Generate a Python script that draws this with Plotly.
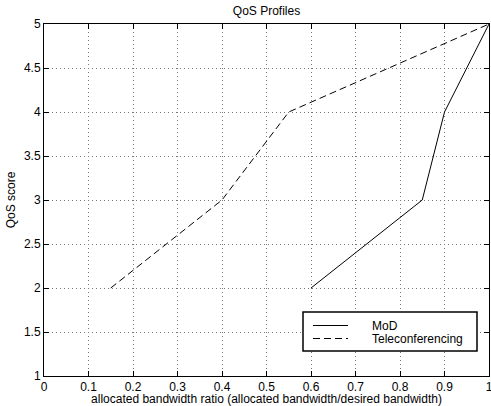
import plotly.graph_objects as go

x_mod = [0.6, 0.85, 0.9, 1.0]
y_mod = [2, 3, 4, 5]
x_tele = [0.15, 0.4, 0.55, 1.0]
y_tele = [2, 3, 4, 5]
series_names = ["MoD", "Teleconferencing"]
x_ticks = [0, 0.1, 0.2, 0.3, 0.4, 0.5, 0.6, 0.7, 0.8, 0.9, 1]
x_tick_labels = ["0", "0.1", "0.2", "0.3", "0.4", "0.5", "0.6", "0.7", "0.8", "0.9", "1"]
y_ticks = [1, 1.5, 2, 2.5, 3, 3.5, 4, 4.5, 5]
y_tick_labels = ["1", "1.5", "2", "2.5", "3", "3.5", "4", "4.5", "5"]

FONT = "Liberation Sans, Arial, Helvetica, sans-serif"
FS = 12
DASH = "7px,4px"

fig = go.Figure()
fig.add_trace(go.Scatter(x=x_mod, y=y_mod, mode="lines", name=series_names[0],
                         line=dict(color="black", width=1), showlegend=False))
fig.add_trace(go.Scatter(x=x_tele, y=y_tele, mode="lines", name=series_names[1],
                         line=dict(color="black", width=1, dash=DASH), showlegend=False))

axis_common = dict(
    showline=True, linecolor="black", linewidth=1, mirror="ticks",
    ticks="inside", ticklen=5, tickcolor="black", tickwidth=1,
    showgrid=True, gridcolor="#777777", gridwidth=1, griddash="1px,3px",
    zeroline=False, tickfont=dict(family=FONT, size=FS, color="black"),
    ticklabeloverflow="allow",
)

# Legend box (drawn in paper coordinates, MATLAB style)
PL, PT, PW, PH = 44, 24, 445, 352


def px(xp):
    return (xp - PL) / PW


def py(yp):
    return (PT + PH - yp) / PH


shapes = [
    dict(type="rect", xref="paper", yref="paper", x0=px(303), x1=px(477), y0=py(351), y1=py(312),
         line=dict(color="black", width=1.5), fillcolor="white", layer="above"),
    dict(type="line", xref="paper", yref="paper", x0=px(313), x1=px(348), y0=py(325.5), y1=py(325.5),
         line=dict(color="black", width=1), layer="above"),
    dict(type="line", xref="paper", yref="paper", x0=px(313), x1=px(348), y0=py(338.5), y1=py(338.5),
         line=dict(color="black", width=1, dash=DASH), layer="above"),
]
annotations = [
    dict(text=series_names[0], xref="paper", yref="paper", x=px(370), y=py(326), xanchor="left",
         yanchor="middle", showarrow=False, font=dict(family=FONT, size=FS, color="black")),
    dict(text=series_names[1], xref="paper", yref="paper", x=px(370), y=py(338.5), xanchor="left",
         yanchor="middle", showarrow=False, font=dict(family=FONT, size=FS, color="black")),
]

fig.update_layout(
    width=491, height=406,
    margin=dict(l=44, r=2, t=24, b=30),
    paper_bgcolor="white", plot_bgcolor="white",
    font=dict(family=FONT, size=FS, color="black"),
    title=dict(text="QoS Profiles", x=0.5, xref="paper", y=1 - 11 / 406,
               yanchor="middle", xanchor="center",
               font=dict(family=FONT, size=FS, color="black")),
    xaxis=dict(range=[0, 1], tickvals=x_ticks, ticktext=x_tick_labels,
               title=dict(text="allocated bandwidth ratio (allocated bandwidth/desired bandwidth)",
                          standoff=1, font=dict(family=FONT, size=FS)),
               automargin=False, **axis_common),
    yaxis=dict(range=[1, 5], tickvals=y_ticks, ticktext=y_tick_labels,
               title=dict(text="QoS score", standoff=5, font=dict(family=FONT, size=FS)),
               automargin=False, **axis_common),
    shapes=shapes,
    annotations=annotations,
    showlegend=False,
)

fig.write_html("out.html", config={"displayModeBar": False},
               post_script="document.body.style.margin='0';document.body.style.overflow='hidden';")
